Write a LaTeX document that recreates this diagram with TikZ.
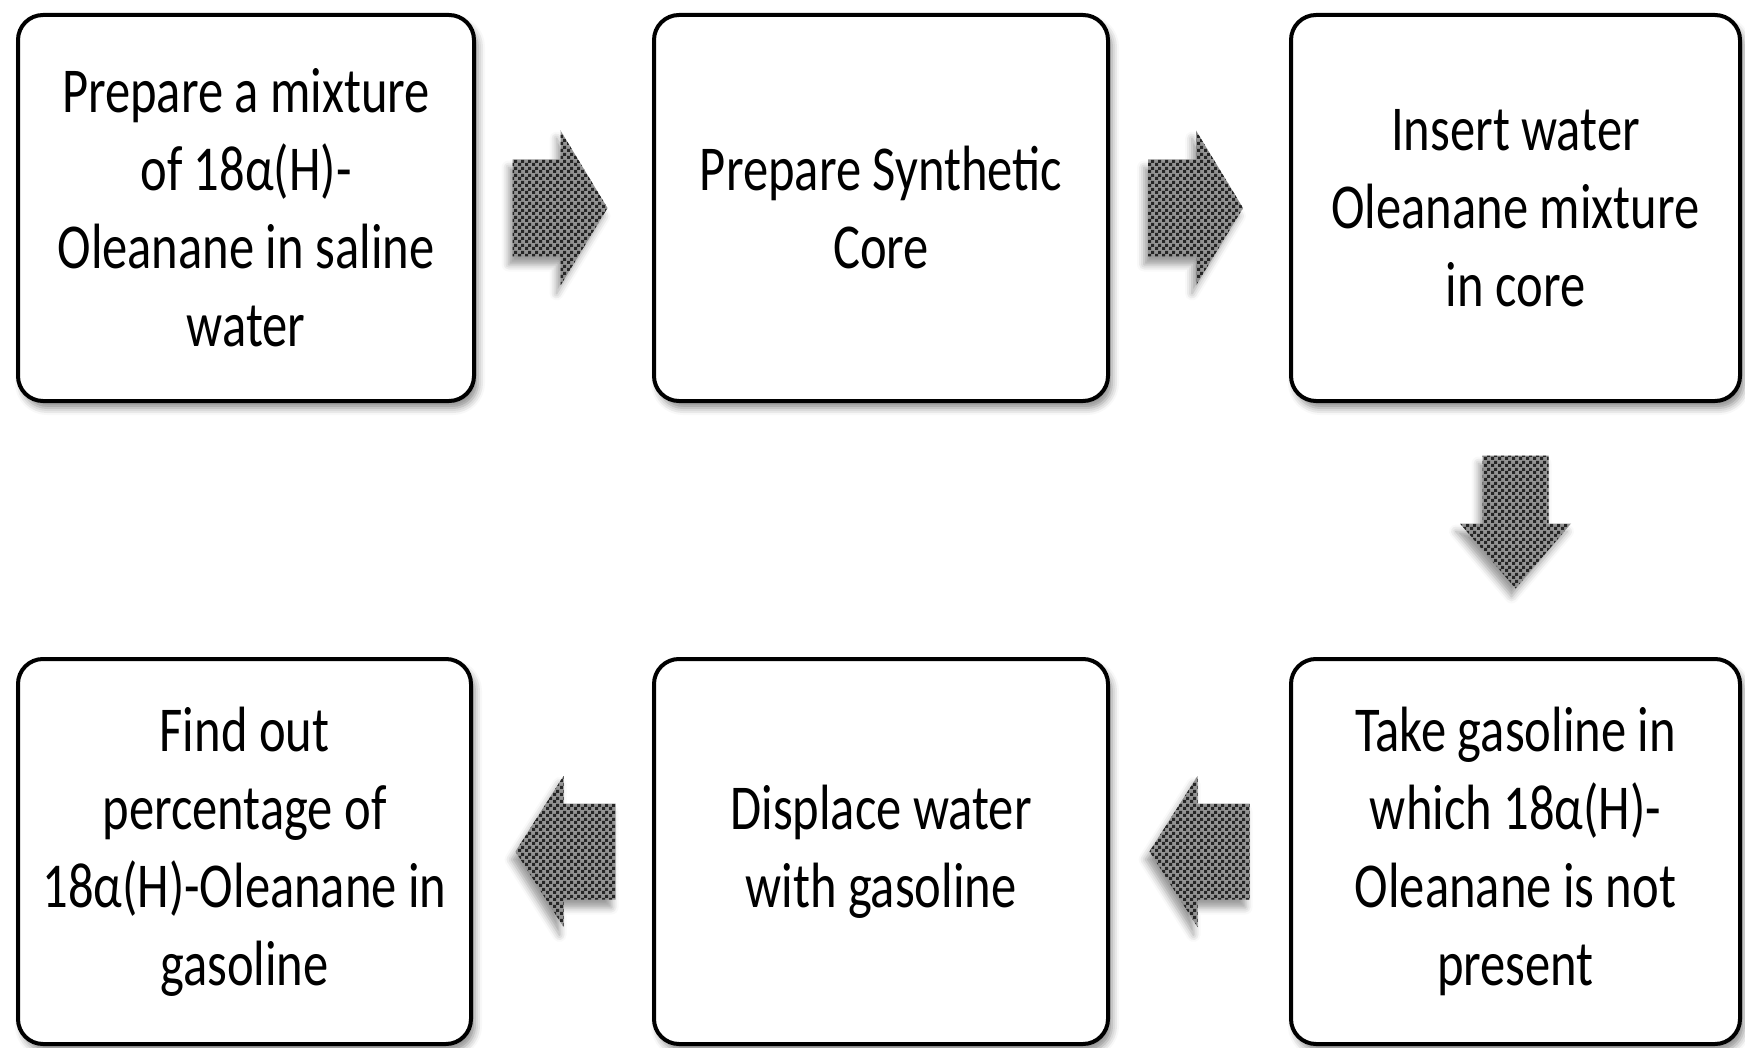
\documentclass[tikz,border=0pt]{standalone}
\usepackage{fontspec}
\setmainfont{Carlito}[FakeStretch=0.79]
\usetikzlibrary{calc,shadows.blur,patterns.meta}
\tikzdeclarepattern{name=mychecker, type=uncolored,
  bounding box={(0pt,0pt) and (7pt,7pt)}, tile size={(7pt,7pt)},
  code={\fill (0pt,0pt) rectangle (3.5pt,3.5pt); \fill (3.5pt,3.5pt) rectangle (7pt,7pt);}}
\tikzset{
  stepbox/.style={draw=black, line width=4pt, rounded corners=25pt, fill=white,
    minimum width=454pt, minimum height=386pt, align=center, inner sep=0pt,
    font=\fontsize{64}{78}\selectfont,
    blur shadow={shadow xshift=4pt, shadow yshift=-7pt, shadow blur radius=7pt, shadow opacity=45}},
  arrowfill/.style={fill=gray!85,
    blur shadow={shadow xshift=-4pt, shadow yshift=-8pt, shadow blur radius=7pt, shadow opacity=40},
    postaction={pattern=mychecker, pattern color=black!85}},
  rarr/.pic={\path[arrowfill] (-47.5,-48.5) -- (0.5,-48.5) -- (0.5,-77.5) -- (47.5,0) -- (0.5,77.5) -- (0.5,48.5) -- (-47.5,48.5) -- cycle;},
  larr/.pic={\path[arrowfill] (50,-48) -- (-2,-48) -- (-2,-75.5) -- (-50,0) -- (-2,75.5) -- (-2,48) -- (50,48) -- cycle;},
  darr/.pic={\path[arrowfill] (-33,-66.5) -- (-33,1.5) -- (-55.5,1.5) -- (0,66.5) -- (55.5,1.5) -- (33,1.5) -- (33,-66.5) -- cycle;}
}
\begin{document}
\begin{tikzpicture}[x=1pt,y=-1pt]
\useasboundingbox (0,0) rectangle (1745,1048);
\node[stepbox, minimum width=456pt] (b1) at (246,208) {Prepare a mixture\\of 18α(H)-\\Oleanane in saline\\water};
\node[stepbox] (b2) at (881,208) {Prepare Synthetic\\Core};
\node[stepbox, minimum width=449pt] (b3) at (1515.5,208) {Insert water\\Oleanane mixture\\in core};
\node[stepbox, minimum width=449pt, minimum height=385pt] (b6) at (1515.5,851.5) {Take gasoline in\\which 18α(H)-\\Oleanane is not\\present};
\node[stepbox, minimum height=385pt] (b5) at (881,851.5) {Displace water\\with gasoline};
\node[stepbox, minimum width=453pt, minimum height=385pt] (b4) at (244.5,851.5) {Find out\\percentage of\\18α(H)-Oleanane in\\gasoline};
\pic at ($(b1.east)!0.5!(b2.west)+(-4,0)$) {rarr};
\pic at ($(b2.east)!0.5!(b3.west)+(-4,0)$) {rarr};
\pic at ($(b3.south)!0.5!(b6.north)+(0,-8)$) {darr};
\pic at ($(b6.west)!0.5!(b5.east)$) {larr};
\pic at ($(b5.west)!0.5!(b4.east)+(3,0)$) {larr};
\end{tikzpicture}
\end{document}
